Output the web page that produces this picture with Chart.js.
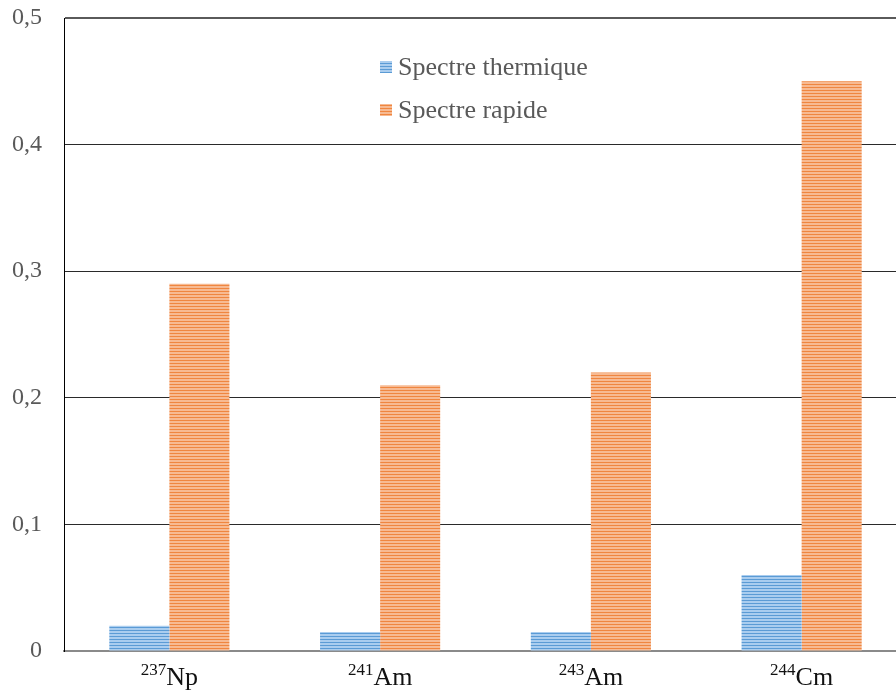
<!DOCTYPE html>
<html>
<head>
<meta charset="utf-8">
<script src="https://cdn.jsdelivr.net/npm/chart.js@4.4.0/dist/chart.umd.min.js"></script>
<style>
  html, body { margin: 0; padding: 0; background: #fff; overflow: hidden; }
  #wrap { width: 908px; height: 691px; position: relative; }
</style>
</head>
<body>
<div id="wrap"><canvas id="chart"></canvas></div>
<script>
// data
const isotopes = ['Np', 'Am', 'Am', 'Cm'];
const massNumbers = ['237', '241', '243', '244'];
const thermalValues = [0.02, 0.015, 0.015, 0.06];
const fastValues = [0.29, 0.21, 0.22, 0.45];
const seriesNames = ['Spectre thermique', 'Spectre rapide'];
const yTicks = [0, 0.1, 0.2, 0.3, 0.4, 0.5];

// horizontal stripe fill, like the office export
function stripes(dark, light) {
    const c = document.createElement('canvas');
    c.width = 4; c.height = 3;
    const g = c.getContext('2d');
    g.fillStyle = light; g.fillRect(0, 0, 4, 3);
    g.fillStyle = dark; g.fillRect(0, 0, 4, 1);
    return g.createPattern(c, 'repeat');
}
const bluePattern = stripes('#5b9bd5', '#aacdef');
const orangePattern = stripes('#ef8640', '#f7ba92');
const legendColors = [bluePattern, orangePattern];

const serif = '"Liberation Serif", "Times New Roman", serif';

// x labels with superscript mass number + floating legend
const customText = {
    id: 'customText',
    afterDraw(chart) {
        const ctx = chart.ctx;
        const xs = chart.scales.x;
        ctx.save();
        ctx.textBaseline = 'alphabetic';
        isotopes.forEach((sym, i) => {
            const cx = xs.getPixelForTick(i);
            ctx.font = '17px ' + serif;
            const wSup = ctx.measureText(massNumbers[i]).width;
            ctx.font = '26px ' + serif;
            const wSym = ctx.measureText(sym).width;
            const left = cx - (wSup + wSym) / 2;
            ctx.fillStyle = '#111';
            ctx.font = '17px ' + serif;
            ctx.textAlign = 'left';
            ctx.fillText(massNumbers[i], left, 675);
            ctx.font = '26px ' + serif;
            ctx.fillText(sym, left + wSup, 685);
        });

        // legend
        const lx = 380, ly = [67, 110];
        seriesNames.forEach((name, i) => {
            ctx.fillStyle = legendColors[i];
            ctx.fillRect(lx, ly[i] - 6, 12, 12);
            ctx.fillStyle = '#595959';
            ctx.font = '26px ' + serif;
            ctx.textAlign = 'left';
            ctx.textBaseline = 'middle';
            ctx.fillText(name, lx + 18, ly[i] + 1);
        });
        ctx.restore();
    }
};

new Chart(document.getElementById('chart'), {
    type: 'bar',
    data: {
        labels: isotopes.map((s, i) => massNumbers[i] + s),
        datasets: [
            { label: seriesNames[0], data: thermalValues, backgroundColor: bluePattern, borderWidth: 0 },
            { label: seriesNames[1], data: fastValues, backgroundColor: orangePattern, borderWidth: 0 }
        ]
    },
    options: {
        responsive: true,
        maintainAspectRatio: false,
        animation: false,
        events: [],
        layout: { padding: { top: 18, right: 1, left: 0, bottom: 0 } },
        datasets: { bar: { categoryPercentage: 0.57, barPercentage: 1 } },
        plugins: { legend: { display: false }, tooltip: { enabled: false } },
        scales: {
            x: {
                grid: { display: false },
                border: { color: '#8a8a8a', width: 2 },
                ticks: { display: false },
                afterFit(scale) { scale.height = 40; }
            },
            y: {
                min: 0,
                max: 0.5,
                afterBuildTicks(scale) { scale.ticks = yTicks.map(v => ({ value: v })); },
                afterFit(scale) {
                    scale.width = 64;
                    scale.paddingTop = 0;
                    scale.paddingBottom = 0;
                },
                grid: {
                    drawTicks: false,
                    color: ctx => ctx.tick && ctx.tick.value === 0 ? 'rgba(0,0,0,0)' : (ctx.tick && ctx.tick.value === 0.5 ? '#5a5a5a' : '#2a2a2a'),
                    lineWidth: ctx => ctx.tick && ctx.tick.value === 0.5 ? 2 : 1
                },
                border: { color: '#000', width: 1 },
                ticks: {
                    padding: 22,
                    color: '#595959',
                    font: { family: serif, size: 24 },
                    callback: v => v === 0 ? '0' : v.toFixed(1).replace('.', ',')
                }
            }
        }
    },
    plugins: [customText]
});
</script>
</body>
</html>
